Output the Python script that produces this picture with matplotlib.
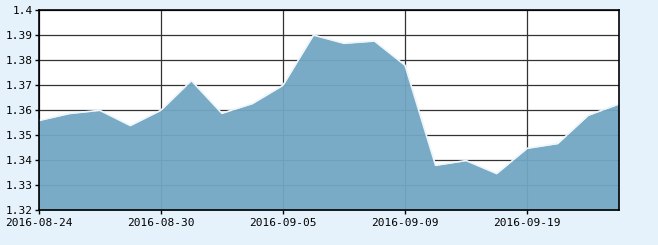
import numpy as np
import matplotlib
matplotlib.use("Agg")
import matplotlib.pyplot as plt

dates = ["2016-08-24", "2016-08-25", "2016-08-26", "2016-08-29", "2016-08-30",
         "2016-08-31", "2016-09-01", "2016-09-02", "2016-09-05", "2016-09-06",
         "2016-09-07", "2016-09-08", "2016-09-09", "2016-09-12", "2016-09-13",
         "2016-09-14", "2016-09-19", "2016-09-20", "2016-09-21", "2016-09-22"]
values = [1.3559, 1.3587, 1.3600, 1.3539, 1.3600, 1.3719, 1.3588, 1.3627,
          1.3700, 1.3901, 1.3868, 1.3877, 1.3780, 1.3380, 1.3399, 1.3347,
          1.3448, 1.3467, 1.3580, 1.3625]
xtick_idx = [0, 4, 8, 12, 16]
yticks = [1.32, 1.33, 1.34, 1.35, 1.36, 1.37, 1.38, 1.39, 1.4]

plt.rcParams['font.family'] = ['DejaVu Sans Mono']

fig = plt.figure(figsize=(6.58, 2.45), dpi=100, facecolor='#e6f2fb')
ax = fig.add_axes([0.0588, 0.1416, 0.8815, 0.8164])
ax.set_facecolor('white')

x = np.arange(len(values))
ax.fill_between(x, 1.32, values, color='#72a7c4', alpha=0.95, lw=0, zorder=2)
ax.plot(x, values, color='#eef6fb', lw=1.2, zorder=3)

ax.set_xlim(0, len(values) - 1)
ax.set_ylim(1.32, 1.4)
ax.set_xticks(xtick_idx)
ax.set_xticklabels([dates[i] for i in xtick_idx])
ax.set_yticks(yticks)
ax.set_yticklabels(['1.32', '1.33', '1.34', '1.35', '1.36', '1.37', '1.38', '1.39', '1.4'])
ax.grid(True, color='#333333', lw=0.9, zorder=1)
ax.set_axisbelow(True)
ax.tick_params(length=3, width=1, color='black', labelsize=8)
ax.tick_params(axis='x', pad=2.5)
ax.tick_params(axis='y', pad=1)
for s in ax.spines.values():
    s.set_color('black')
    s.set_linewidth(1.2)
    s.set_zorder(4)

fig.savefig('out.png', dpi=100, facecolor=fig.get_facecolor())
